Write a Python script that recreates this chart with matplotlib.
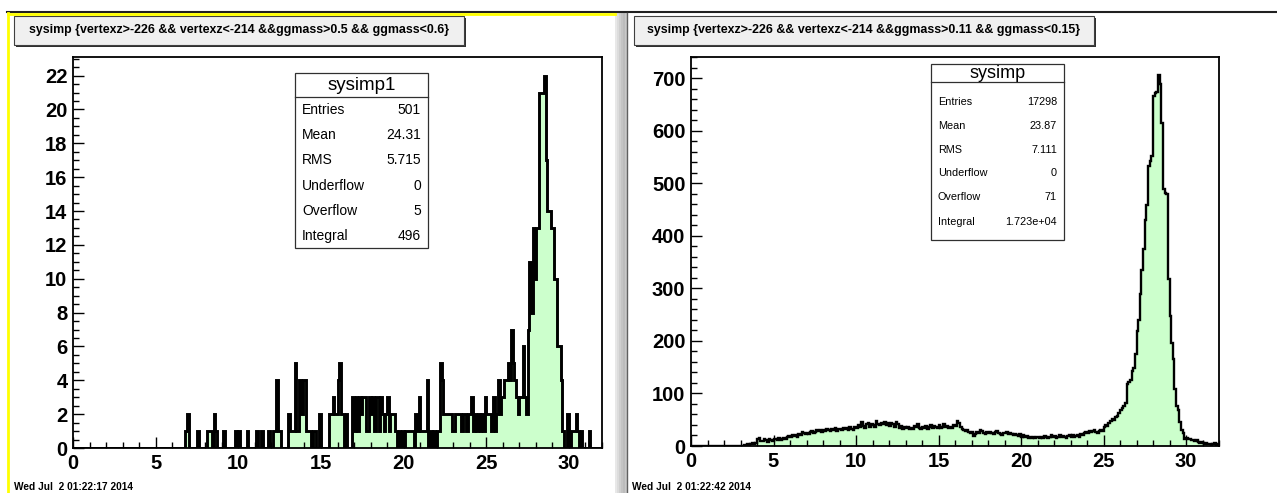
import numpy as np
import matplotlib
matplotlib.use("Agg")
import matplotlib.pyplot as plt
from matplotlib.patches import Rectangle
from matplotlib.ticker import MultipleLocator

plt.rcParams['font.family'] = ['Liberation Sans', 'DejaVu Sans']

W, H = 1277, 493

# ======== data: 320 bins of width 0.1 between 0 and 32 ========
bin_edges = np.round(np.linspace(0, 32, 321), 2)

# sysimp1 (ggmass 0.5-0.6), one row = 10 bins = 1 unit of x
sysimp1_counts = [
    0, 0, 0, 0, 0, 0, 0, 0, 0, 0,    # 0
    0, 0, 0, 0, 0, 0, 0, 0, 0, 0,    # 1
    0, 0, 0, 0, 0, 0, 0, 0, 0, 0,    # 2
    0, 0, 0, 0, 0, 0, 0, 0, 0, 0,    # 3
    0, 0, 0, 0, 0, 0, 0, 0, 0, 0,    # 4
    0, 0, 0, 0, 0, 0, 0, 0, 0, 0,    # 5
    0, 0, 0, 0, 0, 0, 0, 0, 1, 2,    # 6
    0, 0, 0, 0, 0, 1, 0, 0, 0, 0,    # 7
    0, 1, 1, 1, 0, 2, 1, 0, 0, 0,    # 8
    0, 1, 0, 0, 0, 0, 0, 0, 1, 0,    # 9
    1, 0, 0, 0, 0, 1, 0, 0, 0, 0,    # 10
    0, 1, 0, 0, 1, 0, 0, 0, 1, 0,    # 11
    0, 1, 1, 4, 1, 1, 0, 0, 0, 0,    # 12
    2, 1, 1, 1, 5, 1, 1, 4, 2, 4,    # 13
    4, 1, 1, 1, 0, 1, 1, 0, 0, 2,    # 14
    0, 0, 0, 0, 0, 2, 2, 3, 2, 2,    # 15
    4, 5, 2, 2, 0, 2, 0, 0, 0, 3,    # 16
    1, 3, 1, 3, 2, 3, 3, 1, 1, 3,    # 17
    2, 3, 1, 3, 3, 1, 3, 2, 1, 2,    # 18
    3, 1, 2, 2, 2, 1, 0, 1, 0, 1,    # 19
    0, 1, 1, 1, 1, 1, 0, 2, 1, 3,    # 20
    1, 1, 1, 1, 4, 0, 1, 0, 1, 0,    # 21
    1, 1, 5, 4, 2, 2, 2, 2, 2, 1,    # 22
    1, 2, 2, 2, 2, 1, 2, 2, 1, 2,    # 23
    2, 3, 1, 2, 1, 2, 1, 2, 1, 3,    # 24
    2, 2, 2, 1, 3, 1, 2, 4, 2, 3,    # 25
    3, 4, 4, 5, 4, 7, 5, 4, 3, 2,    # 26
    3, 3, 6, 3, 2, 7, 11, 8, 13, 10,  # 27
    13, 13, 21, 21, 21, 22, 17, 14, 14, 13,  # 28
    13, 10, 10, 6, 6, 4, 1, 0, 0, 2,  # 29
    0, 1, 1, 1, 2, 1, 0, 1, 0, 0,    # 30
    0, 0, 1, 0, 0, 0, 0, 0, 0, 0,    # 31
]

# sysimp (ggmass 0.11-0.15)
sysimp_counts = [
    0, 0, 0, 0, 0, 0, 0, 0, 0, 0,    # 0
    0, 0, 0, 0, 0, 0, 0, 0, 0, 0,    # 1
    0, 0, 0, 0, 0, 0, 0, 0, 0, 0,    # 2
    0, 0, 1, 2, 3, 2, 4, 5, 4, 6,    # 3
    14, 16, 10, 9, 13, 12, 8, 14, 11, 9,   # 4
    13, 14, 12, 15, 11, 13, 16, 14, 17, 19,  # 5
    18, 21, 19, 20, 17, 22, 20, 27, 24, 22,  # 6
    25, 23, 26, 29, 24, 27, 30, 28, 31, 27,  # 7
    30, 29, 32, 31, 28, 33, 31, 34, 29, 32,  # 8
    33, 30, 35, 32, 34, 31, 36, 33, 30, 37,  # 9
    34, 39, 36, 45, 38, 35, 41, 44, 37, 42,  # 10
    40, 36, 48, 41, 39, 44, 42, 46, 40, 43,  # 11
    38, 44, 41, 37, 46, 42, 35, 38, 33, 36,  # 12
    34, 37, 32, 35, 33, 38, 36, 42, 35, 33,  # 13
    36, 34, 38, 33, 37, 40, 35, 38, 36, 34,  # 14
    39, 35, 37, 41, 36, 38, 34, 37, 35, 40,  # 15
    38, 48, 43, 37, 33, 30, 29, 31, 27, 25,  # 16
    26, 19, 23, 26, 24, 30, 28, 25, 23, 26,  # 17
    24, 27, 25, 22, 26, 28, 24, 23, 21, 25,  # 18
    24, 27, 23, 25, 22, 20, 23, 21, 19, 22,  # 19
    18, 20, 17, 19, 16, 18, 15, 17, 16, 18,  # 20
    17, 15, 18, 16, 19, 17, 15, 18, 20, 17,  # 21
    19, 16, 18, 20, 17, 19, 18, 16, 19, 21,  # 22
    18, 20, 17, 19, 21, 18, 22, 20, 24, 27,  # 23
    25, 29, 26, 28, 30, 27, 25, 29, 31, 28,  # 24
    36, 40, 38, 44, 47, 52, 50, 56, 58, 62,  # 25
    68, 72, 76, 82, 118, 122, 126, 142, 148, 175,  # 26
    218, 240, 290, 335, 375, 430, 458, 533, 542, 552,  # 27
    665, 672, 674, 705, 688, 615, 488, 482, 480, 318,  # 28
    248, 195, 165, 108, 76, 68, 45, 31, 25, 14,  # 29
    15, 13, 14, 11, 12, 10, 11, 8, 6, 7,  # 30
    5, 4, 5, 3, 4, 2, 3, 5, 2, 3,  # 31
]

titles = ["sysimp {vertexz>-226 && vertexz<-214 &&ggmass>0.5 && ggmass<0.6}",
          "sysimp {vertexz>-226 && vertexz<-214 &&ggmass>0.11 && ggmass<0.15}"]
stat_names = ["Entries", "Mean", "RMS", "Underflow", "Overflow", "Integral"]
stats_left = ["501", "24.31", "5.715", "0", "5", "496"]
stats_right = ["17298", "23.87", "7.111", "0", "71", "1.723e+04"]
dates = ["Wed Jul  2 01:22:17 2014", "Wed Jul  2 01:22:42 2014"]

FILL = "#ccffcc"

fig = plt.figure(figsize=(W / 100, H / 100), dpi=100)


def px_axes(x0, y0, x1, y1, **kw):
    return fig.add_axes([x0 / W, 1 - y1 / H, (x1 - x0) / W, (y1 - y0) / H], **kw)


def draw_hist(ax, counts, ymax, ymaj, ymin, lw):
    ax.stairs(counts, bin_edges, fill=True, color=FILL, lw=0, zorder=1)
    ax.stairs(counts, bin_edges, color="black", lw=lw, zorder=2)
    ax.set_xlim(0, 32)
    ax.set_ylim(0, ymax)
    ax.xaxis.set_major_locator(MultipleLocator(5))
    ax.xaxis.set_minor_locator(MultipleLocator(1))
    ax.yaxis.set_major_locator(MultipleLocator(ymaj))
    ax.yaxis.set_minor_locator(MultipleLocator(ymin))
    ax.tick_params(which="major", direction="in", length=8, width=1, pad=4,
                   top=False, right=False, labelsize=14.5)
    ax.tick_params(which="minor", direction="in", length=4, width=1, top=False, right=False)
    for lab in ax.get_xticklabels() + ax.get_yticklabels():
        lab.set_fontweight("bold")
    for s in ax.spines.values():
        s.set_linewidth(1.3)


ax1 = px_axes(73, 57, 602, 448)
draw_hist(ax1, sysimp1_counts, 23.1, 2, 0.5, 2.1)
ax2 = px_axes(691, 57, 1219, 446)
draw_hist(ax2, sysimp_counts, 740, 100, 20, 1.7)

# ======== canvas decorations, stats and title boxes ========
ov = fig.add_axes([0, 0, 1, 1], zorder=10)
ov.set_xlim(0, W)
ov.set_ylim(H, 0)
ov.axis("off")
ov.patch.set_visible(False)

# window frame lines
ov.plot([7, W], [12, 12], color="#202020", lw=1.5)
ov.plot([8, 8], [13, H], color="#ffff00", lw=2)
ov.plot([8, 615], [14, 14], color="#ffff00", lw=2)
for i, c in enumerate(["#e8e8e8", "#dcdcdc", "#cfcfcf", "#c4c4c4", "#bcbcbc", "#c8c8c8"]):
    ov.add_patch(Rectangle((615 + 2 * i, 13), 2, H - 13, color=c, lw=0))
ov.plot([627, 627], [13, H], color="#606060", lw=1)


def title_box(x0, y0, x1, y1, text):
    ov.add_patch(Rectangle((x0 + 2, y0 + 2), x1 - x0, y1 - y0, color="#303030", lw=0))
    ov.add_patch(Rectangle((x0, y0), x1 - x0, y1 - y0, facecolor="#f0f0f0",
                           edgecolor="#404040", lw=0.8))
    ov.text((x0 + x1) / 2, (y0 + y1) / 2, text, ha="center", va="center",
            fontweight="bold", fontsize=8.9)


title_box(14, 16, 464, 45, titles[0])
title_box(634, 16, 1094, 45, titles[1])


def stats_box(x0, y0, x1, y1, ysep, name, rows_y, values, tsize, rsize):
    ov.add_patch(Rectangle((x0, y0), x1 - x0, y1 - y0, facecolor="white",
                           edgecolor="#303030", lw=0.9))
    ov.plot([x0, x1], [ysep, ysep], color="#303030", lw=0.9)
    ov.text((x0 + x1) / 2, (y0 + ysep) / 2 + 1, name, ha="center", va="center",
            fontsize=tsize)
    for lab, val, yy in zip(stat_names, values, rows_y):
        ov.text(x0 + 7, yy, lab, ha="left", va="center", fontsize=rsize)
        ov.text(x1 - 7, yy, val, ha="right", va="center", fontsize=rsize)


stats_box(295, 73, 428, 248, 97, "sysimp1",
          [110 + 25.2 * k for k in range(6)], stats_left, 13.5, 10)
stats_box(931, 64, 1064, 240, 82, "sysimp",
          [102, 126, 150, 173, 197, 222], stats_right, 13, 7.8)

ov.text(14, 487, dates[0], ha="left", va="center", fontweight="bold", fontsize=7.3)
ov.text(632, 487, dates[1], ha="left", va="center", fontweight="bold", fontsize=7.3)

fig.savefig("out.png", dpi=100)
